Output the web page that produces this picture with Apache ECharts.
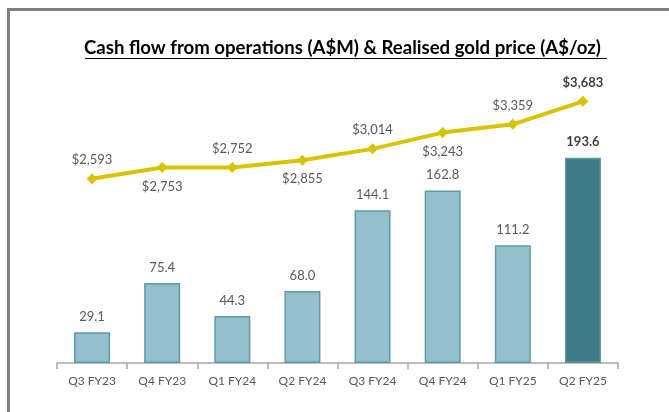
<!DOCTYPE html>
<html>
<head>
<meta charset="utf-8">
<script src="https://cdn.jsdelivr.net/npm/echarts@6/dist/echarts.min.js"></script>
<style>
  html, body { margin: 0; padding: 0; background: #fff; }
  #chart { width: 669px; height: 412px; }
</style>
</head>
<body>
<div id="chart"></div>
<script>
// quarters on the x axis
const quarters = ['Q3 FY23', 'Q4 FY23', 'Q1 FY24', 'Q2 FY24', 'Q3 FY24', 'Q4 FY24', 'Q1 FY25', 'Q2 FY25']
// cash flow from operations, A$M
const cashFlow = [29.1, 75.4, 44.3, 68.0, 144.1, 162.8, 111.2, 193.6]
// realised gold price, A$/oz
const goldPrice = [2593, 2753, 2752, 2855, 3014, 3243, 3359, 3683]
// where each price label sits
const priceLabelPos = ['top', 'bottom', 'top', 'bottom', 'top', 'bottom', 'top', 'top']

const chart = echarts.init(document.getElementById('chart'))
const last = quarters.length - 1
const font = 'Lato, "Open Sans", sans-serif'

const barData = cashFlow.map((v, i) => {
  if (i !== last) return v
  return {
    value: v,
    itemStyle: { color: '#407C86', borderColor: '#5E95A0' },
    label: { fontWeight: 'bold', color: '#404040' }
  }
})

const lineData = goldPrice.map((v, i) => {
  const item = { value: v, label: { position: priceLabelPos[i] } }
  if (i === last) {
    item.label.fontWeight = 'bold'
    item.label.color = '#404040'
  }
  return item
})

const options = {
  backgroundColor: '#fff',
  animation: false,
  title: {
    text: 'Cash flow from operations (A$M) & Realised gold price (A$/oz)',
    left: 84,
    top: 38,
    padding: 0,
    textStyle: { fontFamily: font, fontSize: 18.6, fontWeight: 'bold', color: '#000' }
  },
  graphic: [
    {
      // frame of the slide
      type: 'polyline',
      shape: { points: [[8.5, 420], [8.5, 9.5], [680, 9.5]] },
      style: { stroke: '#808080', lineWidth: 3, fill: null }
    },
    {
      // title underline
      type: 'line',
      shape: { x1: 85, y1: 58.5, x2: 607, y2: 58.5 },
      style: { stroke: '#000', lineWidth: 1.2 }
    }
  ],
  grid: { left: 57, right: 51, top: 98, bottom: 49 },
  xAxis: {
    type: 'category',
    data: quarters,
    axisLine: { lineStyle: { color: '#A6A6A6', width: 1.5 } },
    axisTick: { show: true, length: 6, lineStyle: { color: '#A6A6A6', width: 1.5 } },
    axisLabel: { color: '#595959', fontFamily: font, fontSize: 12, margin: 12 }
  },
  yAxis: [
    { type: 'value', min: 0, max: 250, show: false, splitLine: { show: false } },
    { type: 'value', min: 0, max: 3730, show: false, splitLine: { show: false } }
  ],
  series: [
    {
      name: 'Cash flow',
      type: 'bar',
      yAxisIndex: 0,
      barWidth: 36,
      data: barData,
      itemStyle: { color: '#93C0CC', borderColor: '#5E9AA8', borderWidth: 1.5 },
      label: {
        show: true,
        position: 'top',
        distance: 9,
        color: '#595959',
        fontFamily: font,
        fontSize: 13,
        formatter: p => p.value.toFixed(1)
      }
    },
    {
      name: 'Gold price',
      type: 'line',
      yAxisIndex: 1,
      data: lineData,
      symbol: 'diamond',
      symbolSize: 11,
      lineStyle: { color: '#D9C300', width: 4 },
      itemStyle: { color: '#D9C300' },
      label: {
        show: true,
        distance: 7,
        color: '#595959',
        fontFamily: font,
        fontSize: 13,
        formatter: p => '$' + p.value.toLocaleString('en-US')
      }
    }
  ]
}

chart.setOption(options)
</script>
</body>
</html>
